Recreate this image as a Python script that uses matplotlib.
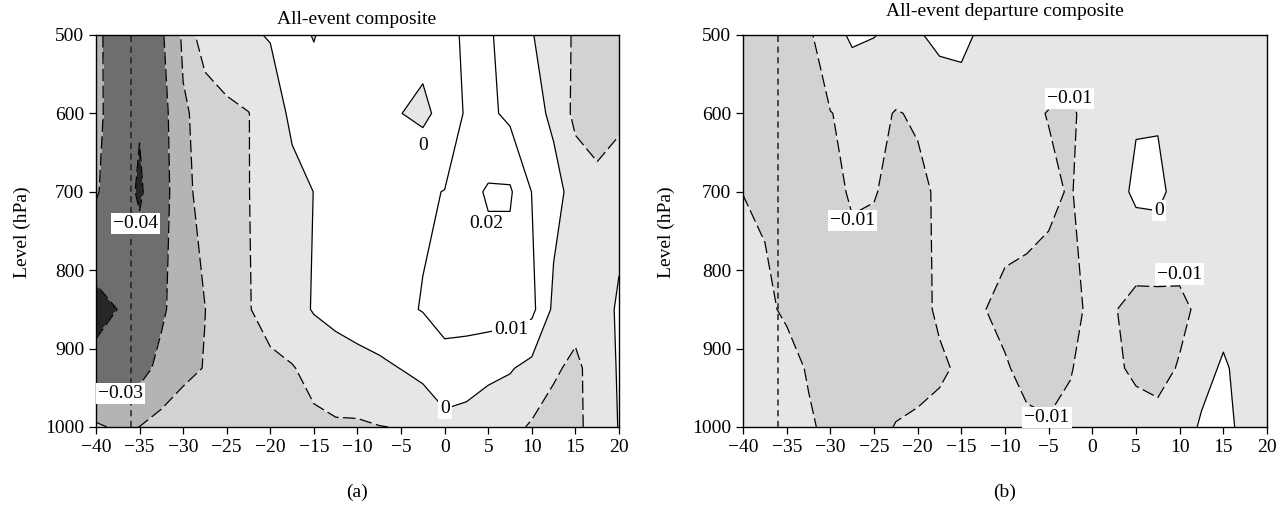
import matplotlib
matplotlib.use('Agg')
import matplotlib.pyplot as plt
import numpy as np

plt.rcParams['font.family'] = ['Liberation Serif', 'DejaVu Serif']
plt.rcParams['axes.unicode_minus'] = True

# grid: lag (x) and pressure level (hPa)
lag = [-40, -37.5, -35, -32.5, -30, -27.5, -25, -22.5, -20, -17.5, -15, -12.5,
       -10, -7.5, -5, -2.5, 0, 2.5, 5, 7.5, 10, 12.5, 15, 17.5, 20]
level_hpa = [500, 600, 700, 850, 925, 1000]

# (a) all-event composite, one row per pressure level
comp_500 = [-0.027, -0.0364, -0.037, -0.0315, -0.0185, -0.0033, -0.003, -0.0012, 0.0006, 0.002, -0.0003, 0.003,
            0.004, 0.005, 0.005, 0.0033, 0.007, 0.0115, 0.0105, 0.0084, 0.0005, -0.005, -0.01125, -0.013, -0.013]
comp_600 = [-0.027, -0.036, -0.0394, -0.0342, -0.021, -0.0175, -0.012, -0.0102, -0.0052, 0.002, 0.003, 0.003,
            0.002, 0.001, 0.0001, -0.002, 0.003, 0.0113, 0.012, 0.0078, 0.003, -0.0017, -0.0126, -0.014, -0.012]
comp_700 = [-0.029, -0.036, -0.041, -0.035, -0.022, -0.0175, -0.014, -0.0102, -0.006, -0.003, 0.0001, 0.002,
            0.004, 0.006, 0.0075, 0.009, 0.0102, 0.017, 0.021, 0.0212, 0.0098, 0.003, -0.0033, -0.0075, -0.005]
comp_850 = [-0.043, -0.0399, -0.0348, -0.032, -0.0237, -0.0201, -0.016, -0.0105, -0.0065, -0.0037, 0.0007, 0.003,
            0.005, 0.007, 0.0085, 0.0104, 0.013, 0.014, 0.015, 0.014, 0.0125, -0.002, -0.007, -0.007, 0.002]
comp_925 = [-0.037, -0.036, -0.034, -0.0269, -0.022, -0.0197, -0.017, -0.014, -0.012, -0.0105, -0.0074, -0.005,
            -0.0035, -0.002, 0.0002, 0.0025, 0.007, 0.0052, 0.002, 0.0008, -0.003, -0.0089, -0.0117, -0.0064, 0.001]
comp_1000 = [-0.0185, -0.0215, -0.0199, -0.017, -0.0155, -0.0145, -0.013, -0.012, -0.0115, -0.0115, -0.0117, -0.011,
             -0.0111, -0.0102, -0.0097, -0.0069, -0.0031, -0.0039, -0.0049, -0.0075, -0.011, -0.013, -0.012, -0.0064, 0.0004]

# (b) all-event departure composite
dep_500 = [-0.016, -0.016, -0.015, -0.0115, -0.004, 0.0016, 0.0003, -0.0022, -0.001, 0.0026, 0.0035, -0.0028,
           -0.004, -0.005, -0.006, -0.006, -0.005, -0.005, -0.004, -0.004, -0.004, -0.004, -0.003, -0.002, -0.001]
dep_600 = [-0.016, -0.016, -0.015, -0.013, -0.0102, -0.0084, -0.008, -0.0104, -0.0092, -0.007, -0.0065, -0.007,
           -0.008, -0.009, -0.0102, -0.0108, -0.008, -0.006, -0.001, -0.001, -0.005, -0.005, -0.004, -0.003, -0.002]
dep_700 = [-0.0101, -0.0115, -0.013, -0.013, -0.0115, -0.0094, -0.0097, -0.0115, -0.0115, -0.009, -0.0075, -0.007,
           -0.0075, -0.008, -0.009, -0.0104, -0.007, -0.004, 0.002, 0.0025, -0.004, -0.005, -0.005, -0.003, -0.001]
dep_850 = [-0.0065, -0.008, -0.0116, -0.013, -0.0135, -0.0125, -0.013, -0.0135, -0.012, -0.009, -0.008, -0.0098,
           -0.0114, -0.0118, -0.012, -0.012, -0.0085, -0.0095, -0.013, -0.013, -0.0115, -0.0086, -0.004, -0.005, -0.005]
dep_925 = [-0.005, -0.006, -0.006, -0.011, -0.013, -0.014, -0.014, -0.013, -0.012, -0.011, -0.009, -0.008,
           -0.0095, -0.0115, -0.012, -0.0105, -0.0063, -0.008, -0.0122, -0.012, -0.0095, -0.004, 0.0015, -0.004, -0.004]
dep_1000 = [-0.004, -0.005, -0.006, -0.0085, -0.0127, -0.013, -0.012, -0.0097, -0.009, -0.008, -0.007, -0.007,
            -0.008, -0.009, -0.0095, -0.008, -0.006, -0.006, -0.005, -0.008, -0.006, 0.0015, 0.003, -0.0028, -0.003]

levels_a = [-0.04, -0.03, -0.02, -0.01, 0, 0.01, 0.02]
levels_b = [-0.01, 0]
ref_lag = -36

fill_a = ['#262626', '#6e6e6e', '#b4b4b4', '#d2d2d2', '#e6e6e6', '#ffffff']
fill_b = ['#d2d2d2', '#e6e6e6', '#ffffff']

# contour labels: (text, lag, level)
labels_a = [('\u22120.04', -35.5, 740), ('\u22120.03', -37.2, 957), ('0', -2.5, 641),
            ('0.02', 4.8, 740), ('0.01', 7.6, 876), ('0', 0.0, 976)]
labels_b = [('\u22120.01', -2.6, 581), ('\u22120.01', -27.5, 737), ('0', 7.6, 724),
            ('\u22120.01', 10.0, 805), ('\u22120.01', -5.2, 988)]

FS = 14


def draw_panel(ax, field, levels, fills, labels):
    X, Y = np.meshgrid(lag, level_hpa)
    Z = np.array(field)
    bounds = [-1] + levels[:len(fills) - 1] + [1]
    ax.contourf(X, Y, Z, levels=bounds, colors=fills)
    styles = [(0, (10, 3.5)) if lv < 0 else 'solid' for lv in levels]
    ax.contour(X, Y, Z, levels=levels, colors='black', linewidths=0.9, linestyles=styles)
    ax.axvline(ref_lag, color='#222222', lw=1.1, linestyle=(0, (4, 3)))
    for txt, x, y in labels:
        ax.text(x, y, txt, ha='center', va='center', fontsize=FS,
                bbox=dict(facecolor='white', edgecolor='none', pad=1.5))
    ax.set_xlim(-40, 20)
    ax.set_ylim(1000, 500)
    ax.set_xticks(range(-40, 21, 5))
    ax.set_yticks(range(500, 1001, 100))
    ax.tick_params(direction='out', length=5, width=0.9, labelsize=FS,
                   top=False, right=False)
    for sp in ax.spines.values():
        sp.set_linewidth(1.0)


fig = plt.figure(figsize=(12.88, 5.19), dpi=100)
ax_a = fig.add_axes([0.0745, 0.1773, 0.4061, 0.7553])
ax_b = fig.add_axes([0.5769, 0.1773, 0.4068, 0.7553])

comp = [comp_500, comp_600, comp_700, comp_850, comp_925, comp_1000]
dep = [dep_500, dep_600, dep_700, dep_850, dep_925, dep_1000]
draw_panel(ax_a, comp, levels_a, fill_a, labels_a)
draw_panel(ax_b, dep, levels_b, fill_b, labels_b)

fig.text(357 / 1288, 1 - 20 / 519, 'All-event composite', ha='center', va='center', fontsize=FS)
fig.text(1005 / 1288, 1 - 12 / 519, 'All-event departure composite', ha='center', va='center', fontsize=FS)
fig.text(22 / 1288, 1 - 232 / 519, 'Level (hPa)', rotation=90, ha='center', va='center', fontsize=FS)
fig.text(666 / 1288, 1 - 232 / 519, 'Level (hPa)', rotation=90, ha='center', va='center', fontsize=FS)
fig.text(357 / 1288, 1 - 492 / 519, '(a)', ha='center', va='center', fontsize=FS)
fig.text(1005 / 1288, 1 - 492 / 519, '(b)', ha='center', va='center', fontsize=FS)

fig.savefig('out.png', dpi=100)
